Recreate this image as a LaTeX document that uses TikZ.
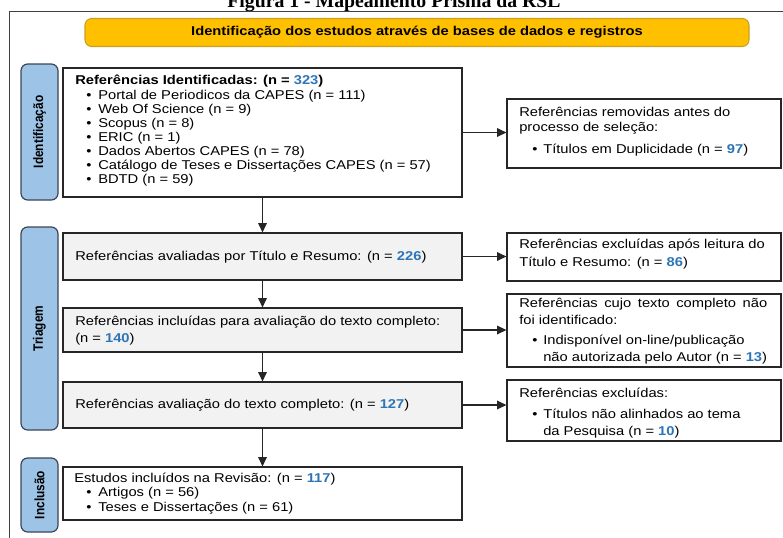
\documentclass[tikz,border=0pt]{standalone}
\usepackage{fontspec}
\setmainfont[FakeStretch=1.15]{Liberation Sans}
\newfontfamily\titlefont{Liberation Serif}
\newfontfamily\plainsans{Liberation Sans}
\usetikzlibrary{arrows.meta}
\definecolor{bannerfill}{HTML}{FFC000}
\definecolor{bannerdraw}{HTML}{C9A020}
\definecolor{sidefill}{HTML}{9DC3E6}
\definecolor{sidedraw}{HTML}{3A4656}
\definecolor{boxgray}{HTML}{F2F2F2}
\definecolor{nblue}{HTML}{2E75B6}
\newcommand\bn[1]{\textcolor{nblue}{\textbf{#1}}}
\newcommand\bul{\makebox[9pt][l]{\textbullet}}
\newcommand\rbul{\makebox[8.25pt][l]{\textbullet}}
\newcommand\sidetext[1]{\scalebox{1}[1.15]{\plainsans\bfseries\fontsize{8.9}{11}\selectfont #1}}
\begin{document}
\begin{tikzpicture}[x=0.75pt,y=-0.75pt,
  box/.style={draw=black!85, line width=0.9pt, inner sep=0pt, minimum width=299.25pt, fill=white},
  graybox/.style={box, fill=boxgray},
  rbox/.style={draw=black!85, line width=0.9pt, inner sep=0pt, minimum width=205.5pt, fill=white},
  side/.style={draw=sidedraw, line width=0.9pt, fill=sidefill, rounded corners=5pt, rotate=90,
    minimum height=27.75pt, inner sep=0pt},
  txt/.style={anchor=base west, inner sep=0pt, font=\fontsize{9.6}{11}\selectfont},
  arr/.style={draw=black!85, line width=0.9pt, -{Triangle[length=7pt,width=6.5pt]}}
]
\useasboundingbox (0,0) rectangle (783,537);
% title (cut at the top, as in the reference)
\node[anchor=base, inner sep=0pt, font=\titlefont\bfseries\fontsize{14.8}{18}\selectfont] (title) at (394,7) {Figura 1 - Mapeamento Prisma da RSL};
% outer frame
\draw[draw=black!75, line width=1.1pt] (9.5,560) -- (9.5,11.5) -- (800,11.5);
% banner
\node[draw=bannerdraw, line width=0.8pt, fill=bannerfill, rounded corners=5pt, minimum width=498pt, minimum height=21pt, inner sep=0pt,
  font=\bfseries\fontsize{9.6}{12}\selectfont] (banner) at (417,32.5) {Identificação dos estudos através de bases de dados e registros};
% side labels
\node[side, minimum width=102pt] (L1) at (39.5,132) {\sidetext{Identificação}};
\node[side, minimum width=152.25pt] (L2) at (39.5,328.5) {\sidetext{Triagem}};
\node[side, minimum width=55.5pt] (L3) at (39.5,495) {\sidetext{Inclusão}};
% main column boxes
\node[box, minimum height=96.75pt] (b1) at (262.5,132.5) {};
\node[graybox, minimum height=35.25pt] (b2) at (262.5,256.5) {};
\node[graybox, minimum height=33pt] (b3) at (262.5,330) {};
\node[graybox, minimum height=34.5pt] (b4) at (262.5,405) {};
\node[box, minimum height=39.75pt] (b5) at (262.5,493.5) {};
% right column boxes
\node[rbox, minimum height=51.75pt] (r1) at (644,133.5) {};
\node[rbox, minimum height=36pt] (r2) at (644,257) {};
\node[rbox, minimum height=54.75pt] (r3) at (644,330.5) {};
\node[rbox, minimum height=45.75pt] (r4) at (644,410.5) {};
% connectors
\draw[arr] (b1.south) -- (b2.north);
\draw[arr] (b2.south) -- (b3.north);
\draw[arr] (b3.south) -- (b4.north);
\draw[arr] (b4.south) -- (b5.north);
\draw[arr] (b1.east) -- (b1.east -| r1.west);
\draw[arr] (b2.east) -- (b2.east -| r2.west);
\draw[arr] (b3.east) -- (b3.east -| r3.west);
\draw[arr] (b4.east) -- (b4.east -| r4.west);
% box 1 text
\node[txt] (t1a) at (75,84) {\textbf{Referências Identificadas: (n = }\bn{323}\textbf{)}};
\node[txt] (t1b) at (86,99) {\bul Portal de Periodicos da CAPES (n = 111)};
\node[txt] (t1c) at (86,113) {\bul Web Of Science (n = 9)};
\node[txt] (t1d) at (86,127) {\bul Scopus (n = 8)};
\node[txt] (t1e) at (86,141) {\bul ERIC (n = 1)};
\node[txt] (t1f) at (86,155) {\bul Dados Abertos CAPES (n = 78)};
\node[txt] (t1g) at (86,169) {\bul Catálogo de Teses e Dissertações CAPES (n = 57)};
\node[txt] (t1h) at (86,183) {\bul BDTD (n = 59)};
% box 2-4 text
\node[txt] (t2a) at (75,260) {Referências avaliadas por Título e Resumo: (n = \bn{226})};
\node[txt] (t3a) at (75,325) {Referências incluídas para avaliação do texto completo:};
\node[txt] (t3b) at (75,342) {(n = \bn{140})};
\node[txt] (t4a) at (75,408.5) {Referências avaliação do texto completo: (n = \bn{127})};
% box 5 text
\node[txt] (t5a) at (74,482) {Estudos incluídos na Revisão: (n = \bn{117})};
\node[txt] (t5b) at (86,496.5) {\bul Artigos (n = 56)};
\node[txt] (t5c) at (86,511) {\bul Teses e Dissertações (n = 61)};
% right boxes text
\node[txt] (s1a) at (519,116) {Referências removidas antes do};
\node[txt] (s1b) at (519,131) {processo de seleção:};
\node[txt] (s1c) at (532,153) {\rbul Títulos em Duplicidade (n = \bn{97})};
\node[txt] (s2a) at (519,248) {Referências excluídas após leitura do};
\node[txt] (s2b) at (519,266) {Título e Resumo: (n = \bn{86})};
\node[txt] (s3a) at (519,307) {\makebox[186pt][s]{Referências cujo texto completo não}};
\node[txt] (s3b) at (519,324) {foi identificado:};
\node[txt] (s3c) at (532,344) {\rbul Indisponível on-line/publicação};
\node[txt] (s3d) at (543,361) {não autorizada pelo Autor (n = \bn{13})};
\node[txt] (s4a) at (519,397) {Referências excluídas:};
\node[txt] (s4b) at (532,418) {\rbul Títulos não alinhados ao tema};
\node[txt] (s4c) at (543,435) {da Pesquisa (n = \bn{10})};
\end{tikzpicture}
\end{document}
